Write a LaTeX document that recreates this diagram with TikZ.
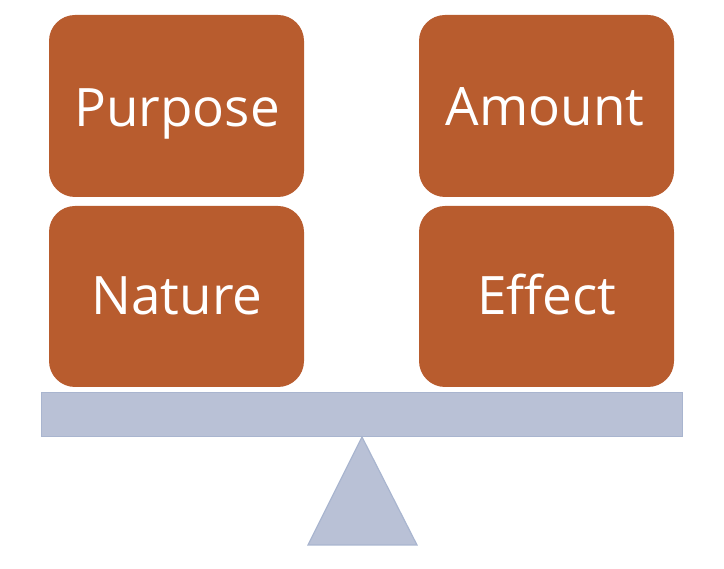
\documentclass[tikz,border=0pt]{standalone}
\usepackage{fontspec}
\setmainfont{Open Sans}
\definecolor{boxc}{HTML}{B85C2E}
\definecolor{barc}{HTML}{B9C1D6}
\definecolor{barline}{HTML}{A9B5CF}
\begin{document}
\begin{tikzpicture}[x=1pt,y=-1pt,
  wbox/.style={fill=boxc, rounded corners=26pt},
  wtext/.style={text=white, anchor=base, inner sep=0pt, font=\fontsize{53}{60}\selectfont},
  barstyle/.style={fill=barc, draw=barline, line width=1.2pt}]
\useasboundingbox (0,0) rectangle (724,569);
\path[wbox] (49,15) rectangle (304,197);
\node[wtext] (purpose) at (177,127) {Purpose};
\path[wbox] (49,206) rectangle (304,387);
\node[wtext] (nature) at (177,315) {Nature};
\path[wbox] (419,15) rectangle (674,197);
\node[wtext] (amount) at (545,126) {Amount};
\path[wbox] (419,206) rectangle (674,387);
\node[wtext] (effect) at (547,315) {Effect};
\path[barstyle] (41.5,392.5) rectangle (682.5,436.5);
\path[barstyle] (362,437) -- (417,545) -- (308,545) -- cycle;
\end{tikzpicture}
\end{document}
